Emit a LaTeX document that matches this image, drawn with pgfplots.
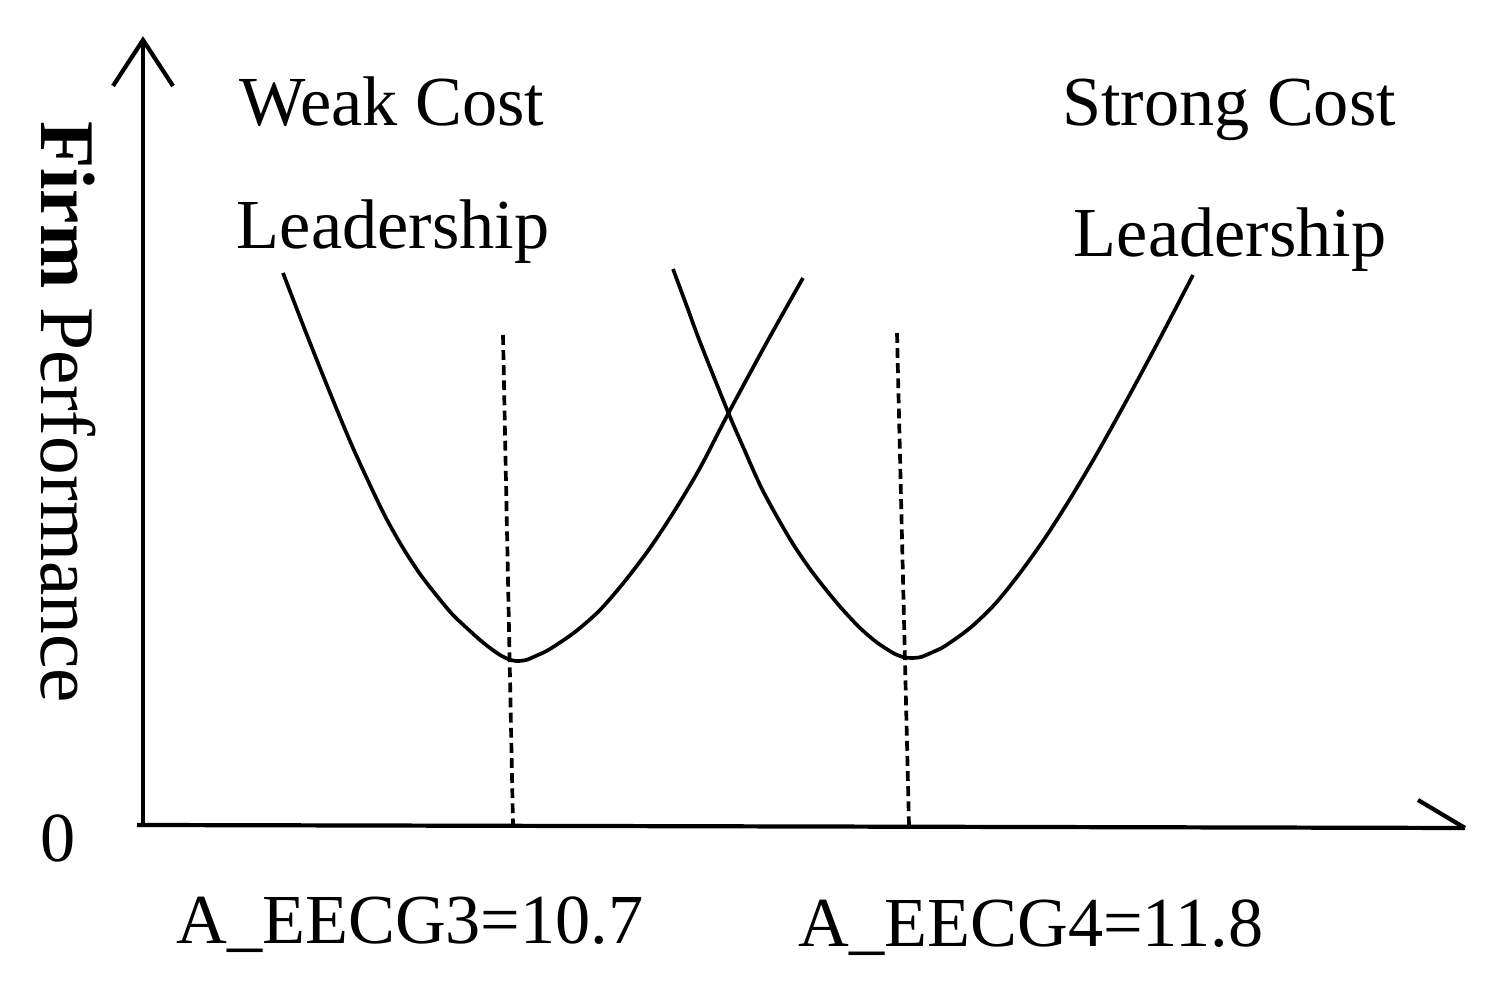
\documentclass[border=0pt]{standalone}
\usepackage{fontspec}
\setmainfont{Liberation Serif}
\usepackage{pgfplots}
\pgfplotsset{compat=1.18}
\begin{document}
\begin{tikzpicture}
\begin{axis}[
  width=15.06cm, height=10cm, scale only axis,
  xmin=0, xmax=1506, ymin=0, ymax=1000, y dir=reverse,
  hide axis, clip=false,
]
\path (axis cs:0,0) rectangle (axis cs:1506,1000);
% axes
\draw[line width=1.2pt] (axis cs:143,826) -- (axis cs:143,40);
\draw[line width=1.2pt, line join=miter] (axis cs:113,86) -- (axis cs:143,40) -- (axis cs:173,86);
\draw[line width=1.2pt] (axis cs:137,825) -- (axis cs:1465,828);
\draw[line width=1.2pt] (axis cs:1418,800) -- (axis cs:1465,828);
% curves
\addplot[black, line width=1.05pt, smooth] coordinates {
(283,273) (303,325) (320,368) (337,410) (353,448) (370,485) (386,518) (403,548)
(420,574) (437,596) (453,615) (470,631) (480,640) (490,648) (500,655) (508,659)
(516,661) (526,660) (538,655) (550,649)
(575,632) (600,610) (625,581) (650,548) (675,510) (700,468)
(728,414) (767,342) (803,278)
};
\addplot[black, line width=1.05pt, smooth] coordinates {
(673,269) (686,304) (700,342) (728,412) (744,449) (760,485) (776,515) (793,544)
(810,569) (827,591) (843,610) (860,628) (875,641) (885,648) (895,654) (903,657)
(911,658) (921,657) (933,652) (945,646) (970,628) (995,604) (1020,573) (1045,538) (1070,499)
(1095,457) (1123,407) (1157,344) (1193,275)
};
% dashed guides
\addplot[black, line width=1.05pt, dash pattern=on 2.8pt off 1.5pt] coordinates {(503,335) (513,825)};
\addplot[black, line width=1.05pt, dash pattern=on 2.8pt off 1.5pt] coordinates {(897,333) (909,825)};
% texts
\node[font=\fontsize{20}{24}\selectfont] at (axis cs:392,102) {Weak Cost};
\node[font=\fontsize{20}{24}\selectfont] at (axis cs:393,232) {Leadership};
\node[font=\fontsize{20}{24}\selectfont] at (axis cs:1229,110) {Strong Cost};
\node[font=\fontsize{20}{24}\selectfont] at (axis cs:1230,240) {Leadership};
\node[font=\fontsize{20}{24}\selectfont] at (axis cs:58,838) {0};
\node[font=\fontsize{20}{24}\selectfont] at (axis cs:410,925) {A\_EECG3=10.7};
\node[font=\fontsize{20}{24}\selectfont] at (axis cs:1031,928) {A\_EECG4=11.8};
\node[font=\fontsize{22}{26}\selectfont, rotate=-90] at (axis cs:68,412) {\textbf{Firm} Performance};
\end{axis}
\end{tikzpicture}
\end{document}
